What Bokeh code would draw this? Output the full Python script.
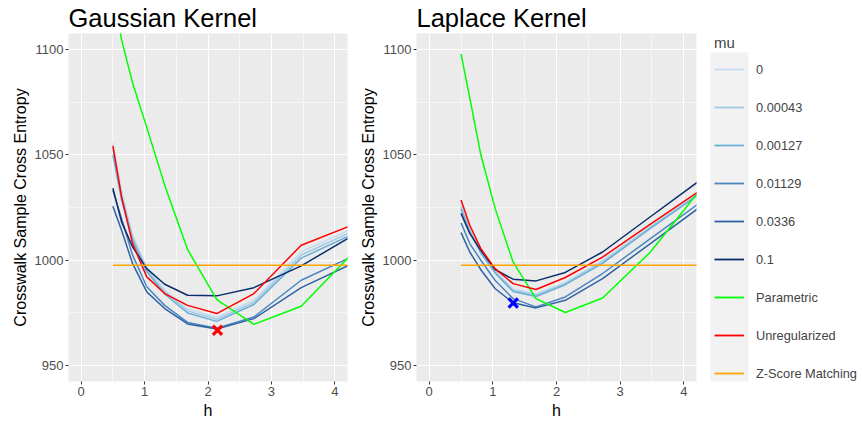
from bokeh.plotting import figure
from bokeh.models import Range1d, FixedTicker, Legend, LegendItem, BoxAnnotation
from bokeh.layouts import row
from bokeh.embed import file_html
from bokeh.resources import INLINE

# ---------------- data ----------------
h = [0.5, 0.637, 0.811, 1.034, 1.317, 1.678, 2.138, 2.724, 3.47, 4.421]

gauss_mu_0 = [1055.5, 1033, 1012, 996.5, 986, 977, 973, 981, 1004, 1016.9]
gauss_mu_00043 = [1053, 1031, 1011, 995.5, 985, 976, 972, 980, 1002.5, 1015.6]
gauss_mu_00127 = [1050, 1028.5, 1009.5, 994.5, 984, 975, 971, 979, 1001, 1014.3]
gauss_mu_01129 = [1033, 1019.8, 1002.4, 987.4, 978.6, 970.5, 967.8, 973.1, 990.5, 1003.8]
gauss_mu_0336 = [1025.6, 1014.2, 998.4, 985, 977.1, 969.8, 967.4, 972.3, 987, 1000.5]
gauss_mu_1 = [1034.1, 1018.2, 1006.3, 996, 988.6, 983.4, 983.1, 987, 997.3, 1014.2]
gauss_parametric = [1130, 1104.5, 1084, 1063, 1035.6, 1005.1, 981.3, 969.6, 978.2, 1007.7]
gauss_unregularized = [1054.2, 1030, 1007.9, 992.1, 984.2, 978.6, 974.7, 984.2, 1007.1, 1018.4]
gauss_zscore = 997.6
gauss_best_h = [2.15]
gauss_best_val = [966.8]

lap_mu_0 = [1026.5, 1015, 1004.2, 995, 986.4, 984, 989.5, 1000, 1016, 1035.8]
lap_mu_00043 = [1025.3, 1014.2, 1003.9, 994.5, 985.8, 983.4, 989, 999.2, 1015.5, 1035.5]
lap_mu_00127 = [1024.3, 1013.4, 1003.4, 994, 985.2, 982.8, 988.4, 998.5, 1015, 1035]
lap_mu_01129 = [1017.7, 1007.9, 1000, 990.5, 981.8, 977.9, 982.6, 993.7, 1010.1, 1030.9]
lap_mu_0336 = [1013.1, 1003.9, 995.5, 986.6, 979.8, 977.4, 981, 991.3, 1007.8, 1028.9]
lap_mu_1 = [1022.2, 1012.7, 1004.7, 995.6, 991, 990.2, 994.2, 1003.9, 1020.5, 1041.6]
lap_parametric = [1097.8, 1077, 1050, 1024.7, 999.2, 981.8, 975.2, 982.1, 1003.7, 1039.6]
lap_unregularized = [1028.5, 1016.6, 1005.5, 996, 988.9, 986.1, 991.8, 1001.5, 1017, 1036.4]
lap_zscore = 997.6
lap_best_h = [1.32]
lap_best_val = [979.7]

legend_labels = ["0", "0.00043", "0.00127", "0.01129", "0.0336", "0.1",
                 "Parametric", "Unregularized", "Z-Score Matching"]
x_ticks = [0, 1, 2, 3, 4]
y_ticks = [950, 1000, 1050, 1100]

# ---------------- styles ----------------
colors = ["#C6DBEF", "#9ECAE1", "#6BAED6", "#4A86BE", "#2F62A3", "#0B2D6B",
          "#00FF00", "#FF0000", "#FFA500"]
FONT = "Liberation Sans"
H = 421


def make_panel(title, series, zval, best_h, best_val, best_color, width, left, right):
    p = figure(width=width, height=H, x_range=Range1d(-0.2, 4.2),
               y_range=Range1d(942.5, 1107.5), output_backend="svg",
               toolbar_location=None, min_border_left=left, min_border_right=right,
               min_border_top=33, min_border_bottom=0)
    p.background_fill_color = "#EBEBEB"
    p.border_fill_color = "white"
    p.outline_line_color = None
    p.title.text = title
    p.title.text_font = FONT
    p.title.text_font_size = "25.5px"
    p.title.text_font_style = "normal"
    p.title.text_color = "black"
    p.title.align = "left"
    p.title.vertical_align = "top"
    p.title.standoff = 0
    p.title.offset = 0

    p.xaxis.ticker = FixedTicker(ticks=x_ticks, minor_ticks=[0.5, 1.5, 2.5, 3.5])
    p.yaxis.ticker = FixedTicker(ticks=y_ticks, minor_ticks=[975, 1025, 1075])
    p.xaxis.axis_label = "h"
    p.yaxis.axis_label = "Crosswalk Sample Cross Entropy"
    for ax in (p.xaxis, p.yaxis):
        ax.axis_line_color = None
        ax.major_tick_line_color = "#333333"
        ax.major_tick_out = 3
        ax.major_tick_in = 0
        ax.minor_tick_out = 0
        ax.minor_tick_in = 0
        ax.major_label_text_font = FONT
        ax.major_label_text_font_size = "13px"
        ax.major_label_text_color = "#4D4D4D"
        ax.major_label_standoff = 2
        ax.axis_label_text_font = FONT
        ax.axis_label_text_font_size = "16px"
        ax.axis_label_text_font_style = "normal"
        ax.axis_label_text_color = "black"
        ax.axis_label_standoff = 3
    for g in (p.xgrid, p.ygrid):
        g.grid_line_color = "white"
        g.grid_line_width = 1.1
        g.minor_grid_line_color = "white"
        g.minor_grid_line_width = 0.55

    for vals, c in zip(series, colors[:8]):
        p.line(h, vals, line_color=c, line_width=1.5)
    p.line(h, [zval] * len(h), line_color=colors[8], line_width=1.5)
    p.scatter(best_h, best_val, marker="x", size=13, line_width=3.2,
              line_color=best_color)
    return p


g_series = [gauss_mu_0, gauss_mu_00043, gauss_mu_00127, gauss_mu_01129,
            gauss_mu_0336, gauss_mu_1, gauss_parametric, gauss_unregularized]
l_series = [lap_mu_0, lap_mu_00043, lap_mu_00127, lap_mu_01129,
            lap_mu_0336, lap_mu_1, lap_parametric, lap_unregularized]

p1 = make_panel("Gaussian Kernel", g_series, gauss_zscore, gauss_best_h,
                gauss_best_val, "#FF0000", 350, 68, 3)
p2 = make_panel("Laplace Kernel", l_series, lap_zscore, lap_best_h,
                lap_best_val, "#0000FF", 347, 66, 1)

# ---------------- legend panel ----------------
LW = 160
lg = figure(width=LW, height=H, x_range=Range1d(0, LW), y_range=Range1d(0, 1),
            output_backend="svg", toolbar_location=None, min_border=0,
            x_axis_type=None, y_axis_type=None)
lg.grid.visible = False
lg.outline_line_color = None
lg.background_fill_color = "white"
lg.border_fill_color = "white"
lg.add_layout(BoxAnnotation(left=13, right=51, top=52, bottom=392,
                            left_units="canvas", right_units="canvas",
                            top_units="canvas", bottom_units="canvas",
                            fill_color="#F2F2F2", fill_alpha=1, line_color=None,
                            level="underlay"))
items = []
for lab, c in zip(legend_labels, colors):
    # proxy renderer for the legend key only (lies outside the visible range)
    r = lg.line(x=[0, 1], y=[-5, -5], line_color=c, line_width=1.8)
    items.append(LegendItem(label=lab, renderers=[r]))
# location = bottom-left corner of the legend, measured from the frame's bottom-left
legend = Legend(items=items, location=(17, -2), title="mu",
                title_text_font=FONT, title_text_font_size="15px",
                title_text_font_style="normal", title_standoff=8,
                label_text_font=FONT, label_text_font_size="12.8px",
                glyph_width=30, glyph_height=20, label_height=20, spacing=18,
                label_standoff=12, padding=0, margin=0,
                border_line_color=None, background_fill_alpha=0)
lg.add_layout(legend)

layout = row(p1, p2, lg)
open("out.html", "w").write(file_html(layout, INLINE))
